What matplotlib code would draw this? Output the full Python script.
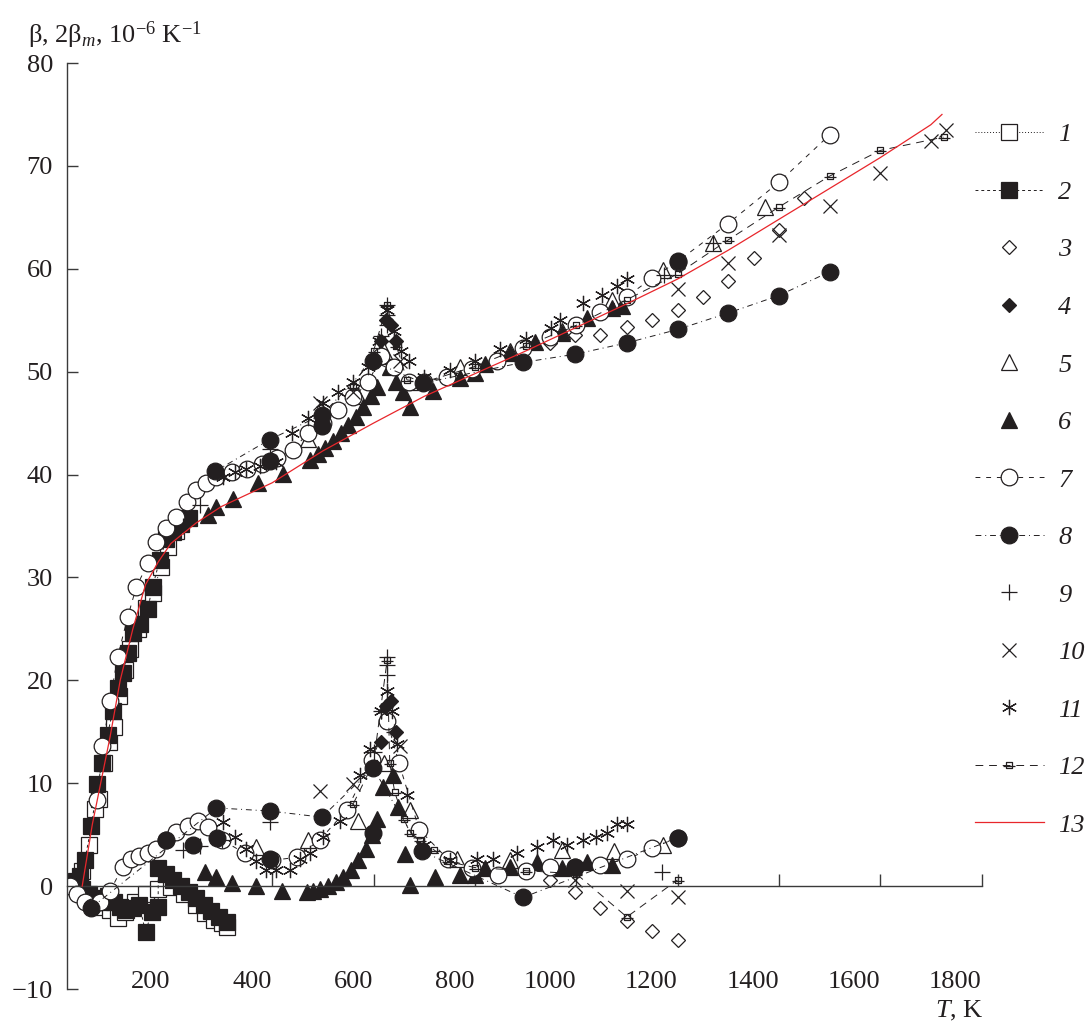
import matplotlib
matplotlib.use("Agg")
import matplotlib.pyplot as plt
from matplotlib.path import Path
from matplotlib.lines import Line2D

plt.rcParams['font.family'] = ['Liberation Serif', 'DejaVu Serif']
plt.rcParams['mathtext.fontset'] = 'custom'
plt.rcParams['mathtext.rm'] = 'Liberation Serif'
plt.rcParams['mathtext.it'] = 'Liberation Serif:italic'

INK = '#231f20'
RED = '#e8262b'

# ---- data: T (K) and beta / 2beta_m (1e-6 1/K), upper and lower branches ----
t1_up = [25, 38, 50, 58, 68, 78, 88, 98, 110, 120, 135, 150, 165, 180, 195, 210]
b1_up = [1.5, 4.0, 7.5, 8.5, 12.0, 14.0, 15.5, 18.5, 21.0, 23.0, 25.0, 27.0, 28.5, 31.0, 33.0, 34.5]
t1_lo = [0, 20, 40, 60, 80, 95, 110, 130, 150, 175, 200, 225, 250, 267, 285, 300, 310]
b1_lo = [0.0, -0.5, -1.2, -2.0, -2.3, -3.1, -2.5, -1.5, -0.8, -0.3, -0.1, -0.8, -1.8, -2.6, -3.3, -3.6, -4.0]

t2_up = [20, 30, 43, 55, 65, 75, 85, 95, 105, 115, 125, 140, 154, 164, 178, 191, 204, 220, 235]
b2_up = [1.0, 2.5, 5.8, 9.9, 12.0, 14.7, 17.0, 19.3, 20.7, 22.7, 24.6, 25.5, 26.9, 29.1, 31.7, 33.7, 34.4, 35.2, 35.8]
t2_lo = [0, 12, 25, 38, 50, 62, 75, 88, 100, 112, 125, 138, 150, 162, 175,
         175, 190, 205, 220, 235, 250, 265, 280, 295, 310]
b2_lo = [0.0, 0.5, -0.3, -0.8, -1.2, -1.5, -1.0, -1.5, -2.0, -2.3, -2.1, -1.8, -4.5, -2.5, -2.0,
         1.8, 1.2, 0.6, 0.0, -0.6, -1.2, -1.8, -2.4, -3.0, -3.5]

t3_up = [949, 998, 1047, 1100, 1150, 1200, 1250, 1300, 1350, 1400, 1450]
b3_up = [52.8, 53.6, 53.6, 54.3, 55.0, 56.0, 57.3, 58.8, 61.0, 63.8, 66.9]
t3_lo = [949, 998, 1047, 1100, 1150, 1200]
b3_lo = [0.6, -0.6, -2.1, -3.4, -4.4, -5.2]

t4_up = [615, 625, 635, 645]
b4_up = [53.0, 55.0, 54.5, 53.0]
t4_lo = [615, 625, 635, 645]
b4_lo = [14.0, 17.5, 18.0, 15.0]

t5_up = [470, 569, 620, 672, 771, 870, 972, 1071, 1172, 1271, 1373]
b5_up = [43.5, 47.6, 52.0, 49.0, 50.5, 52.0, 54.0, 57.0, 59.9, 62.5, 66.0]
t5_lo = [369, 471, 569, 620, 672, 765, 870, 972, 1074, 1172]
b5_lo = [3.8, 4.5, 6.3, 12.0, 7.4, 2.6, 2.5, 3.5, 3.4, 4.0]

t6_up = [273, 290, 322, 372, 421, 474, 490, 505, 520, 535, 550, 565, 580, 595, 607, 619, 632,
         645, 658, 672, 717, 771, 800, 820, 870, 919, 972, 1022, 1071, 1090]
b6_up = [36.1, 36.8, 37.6, 39.2, 40.1, 41.4, 42.0, 42.6, 43.3, 44.0, 44.8, 45.6, 46.6, 47.6, 48.5, 51.5, 50.5,
         49.0, 48.0, 46.6, 48.1, 49.4, 49.9, 50.7, 51.8, 52.9, 53.8, 55.2, 56.2, 56.4]
t6_lo = [267, 290, 320, 369, 419, 468, 481, 494, 510, 525, 540, 555, 570, 585, 597, 606, 618,
         638, 649, 662, 672, 721, 771, 800, 820, 870, 922, 972, 1022, 1071]
b6_lo = [1.4, 0.9, 0.3, 0.0, -0.5, -0.6, -0.5, -0.3, 0.0, 0.4, 0.9, 1.6, 2.5, 3.6, 5.0, 6.5, 9.6,
         10.8, 7.7, 3.1, 0.1, 0.9, 1.1, 1.1, 1.8, 1.9, 2.3, 1.8, 2.3, 2.1]

t7_up = [55, 65, 80, 95, 115, 132, 155, 171, 190, 211, 231, 250, 270, 290, 320, 350, 380, 410, 441,
         470, 500, 530, 560, 590, 615, 640, 670, 700, 745, 795, 844, 895, 949, 1000, 1047, 1100,
         1150, 1200, 1300, 1400, 1500]
b7_up = [8.4, 13.6, 18.0, 22.3, 26.2, 29.1, 31.4, 33.4, 34.8, 35.9, 37.3, 38.5, 39.2, 39.8, 40.2, 40.5,
         41.0, 41.6, 42.4, 44.0, 45.0, 46.3, 47.5, 49.0, 51.5, 50.5, 49.0, 49.0, 49.5, 50.3, 51.0, 52.3,
         53.4, 54.5, 55.8, 57.3, 59.1, 60.7, 64.4, 68.4, 73.0]
t7_lo = [0, 15, 30, 45, 60, 80, 105, 122, 138, 155, 171, 191, 211, 233, 253, 273, 300, 346, 400, 448,
         494, 547, 597, 627, 650, 690, 747, 795, 846, 900, 949, 998, 1047, 1100, 1150, 1200]
b7_lo = [0.0, -0.8, -1.5, -2.0, -1.5, -0.5, 1.9, 2.6, 2.9, 3.2, 3.6, 4.5, 5.3, 5.8, 6.3, 5.7, 4.5, 3.2,
         2.5, 2.8, 4.5, 7.4, 12.3, 16.0, 12.0, 5.5, 2.6, 1.8, 1.1, 1.5, 1.9, 1.9, 2.1, 2.6, 3.7, 4.7]

t8_up = [287, 395, 498, 598, 698, 895, 998, 1100, 1200, 1300, 1400, 1500]
b8_up = [40.3, 43.4, 45.8, 51.0, 48.9, 50.9, 51.7, 52.8, 54.1, 55.7, 57.4, 59.7]
t8_lo = [43, 290, 395, 498, 599, 695, 895, 1200]
b8_lo = [-2.1, 7.6, 7.3, 6.7, 11.5, 3.4, -1.1, 4.7]
t8b_up = [395, 498, 1200]
b8b_up = [41.3, 44.7, 60.8]
t8b_lo = [191, 244, 292, 395, 599, 998]
b8b_lo = [4.5, 4.0, 4.7, 2.6, 5.2, 1.9]

t9_up = [223, 257, 395, 600, 615, 627, 627, 627, 640, 1174, 1270]
b9_up = [35.0, 37.0, 42.5, 51.0, 53.5, 54.5, 55.5, 56.5, 53.0, 59.4, 62.5]
t9_lo = [223, 257, 300, 395, 600, 615, 627, 627, 627, 640, 1170]
b9_lo = [3.5, 3.9, 4.5, 6.2, 13.0, 17.0, 20.5, 21.5, 22.3, 15.0, 1.4]

t10_up = [494, 559, 652, 1200, 1300, 1400, 1500, 1600, 1700, 1729]
b10_up = [47.0, 48.0, 51.0, 58.0, 60.6, 63.3, 66.1, 69.3, 72.4, 73.5]
t10_lo = [494, 559, 652, 998, 1100, 1200]
b10_lo = [9.2, 9.9, 13.6, 0.6, -0.5, -1.1]

t11_up = [302, 326, 349, 375, 408, 440, 470, 500, 530, 560, 590, 610, 627, 640, 655, 670, 700, 750,
          800, 850, 900, 950, 968, 1014, 1050, 1080, 1100]
b11_up = [39.8, 40.2, 40.5, 40.8, 41.2, 44.0, 45.5, 47.0, 48.0, 49.0, 50.5, 53.0, 56.0, 54.0, 52.0,
          51.0, 49.5, 50.2, 51.0, 52.2, 53.2, 54.2, 55.0, 56.7, 57.5, 58.3, 59.0]
t11_lo = [302, 326, 349, 369, 388, 408, 435, 455, 474, 500, 534, 573, 593, 615, 627, 636, 646, 666,
          700, 750, 804, 836, 883, 922, 955, 982, 1014, 1040, 1061, 1081, 1100]
b11_lo = [6.2, 4.8, 3.6, 2.4, 1.6, 1.6, 1.6, 2.6, 3.2, 4.8, 6.3, 10.8, 13.3, 17.0, 19.0, 17.0, 13.8,
          8.9, 4.0, 2.5, 2.6, 2.6, 3.2, 3.8, 4.5, 4.0, 4.5, 4.8, 5.2, 6.0, 6.0]

t12_up = [560, 600, 627, 645, 666, 700, 800, 900, 1000, 1100, 1200, 1300, 1400, 1500, 1600, 1725]
b12_up = [48.5, 52.0, 56.5, 52.5, 49.2, 49.0, 50.5, 52.5, 54.5, 57.0, 59.5, 62.8, 66.0, 69.0, 71.5, 72.8]
t12_lo = [560, 600, 627, 632, 642, 660, 672, 692, 720, 747, 800, 900, 1000, 1100, 1200]
b12_lo = [8.0, 12.0, 22.0, 12.0, 9.1, 6.5, 5.2, 4.5, 3.5, 2.4, 1.8, 1.5, 1.2, -3.0, 0.6]

t13 = [25, 45, 80, 100, 125, 150, 175, 200, 250, 300, 400, 500, 600, 700, 800, 900, 1000,
       1100, 1200, 1300, 1400, 1500, 1600, 1700, 1722]
b13 = [0.0, 6.0, 14.5, 20.0, 25.0, 29.3, 31.5, 33.3, 35.3, 36.9, 39.2, 42.3, 45.0, 47.6, 49.8, 52.0,
       54.3, 56.6, 59.0, 61.8, 64.8, 67.8, 70.8, 74.0, 75.0]

x_ticks = [200, 400, 600, 800, 1000, 1200, 1400, 1600, 1800]
y_ticks = [-10, 0, 10, 20, 30, 40, 50, 60, 70, 80]
labels = ['1', '2', '3', '4', '5', '6', '7', '8', '9', '10', '11', '12', '13']

# small square with a bar through it (curve 12)
sq_bar = Path([(-0.5, -0.5), (0.5, -0.5), (0.5, 0.5), (-0.5, 0.5), (-0.5, -0.5),
               (-0.9, -0.1), (0.9, -0.1)],
              [Path.MOVETO, Path.LINETO, Path.LINETO, Path.LINETO, Path.CLOSEPOLY,
               Path.MOVETO, Path.LINETO])
asterisk = (6, 2, 0)

styles = [
    dict(marker='s', ms=11, mfc='white', ls=(0, (1, 2))),
    dict(marker='s', ms=11, mfc=INK, ls=(0, (3, 3))),
    dict(marker='D', ms=7.5, mfc='white', ls='none'),
    dict(marker='D', ms=7.5, mfc=INK, ls='none'),
    dict(marker='^', ms=11, mfc='white', ls='none'),
    dict(marker='^', ms=11, mfc=INK, ls='none'),
    dict(marker='o', ms=12, mfc='white', ls=(0, (5, 6))),
    dict(marker='o', ms=12, mfc=INK, ls=(0, (6, 4, 1, 4))),
    dict(marker='+', ms=11, mfc=INK, ls='none'),
    dict(marker='x', ms=10, mfc=INK, ls='none'),
    dict(marker=asterisk, ms=11, mfc=INK, ls='none'),
    dict(marker=sq_bar, ms=8, mfc='none', ls=(0, (8, 6))),
]

series = [
    [(t1_up, b1_up), (t1_lo, b1_lo)],
    [(t2_up, b2_up), (t2_lo, b2_lo)],
    [(t3_up, b3_up), (t3_lo, b3_lo)],
    [(t4_up, b4_up), (t4_lo, b4_lo)],
    [(t5_up, b5_up), (t5_lo, b5_lo)],
    [(t6_up, b6_up), (t6_lo, b6_lo)],
    [(t7_up, b7_up), (t7_lo, b7_lo)],
    [(t8_up, b8_up), (t8_lo, b8_lo)],
    [(t9_up, b9_up), (t9_lo, b9_lo)],
    [(t10_up, b10_up), (t10_lo, b10_lo)],
    [(t11_up, b11_up), (t11_lo, b11_lo)],
    [(t12_up, b12_up), (t12_lo, b12_lo)],
]

fig = plt.figure(figsize=(10.85, 10.23), dpi=100)
ax = fig.add_axes([67 / 1085, 1 - 989 / 1023, (981.5 - 67) / 1085, (989 - 63) / 1023])

handles = []
for st, branches in zip(styles, series):
    kw = dict(color=INK, lw=0.7, marker=st['marker'], ms=st['ms'], mfc=st['mfc'],
              mec=INK, mew=0.9, ls=st['ls'])
    for t, b in branches:
        ax.plot(t, b, **kw)
    handles.append(Line2D([], [], **kw))

# extra filled-circle points without connecting line
ax.plot(t8b_up, b8b_up, ls='none', marker='o', ms=12, color=INK)
ax.plot(t8b_lo, b8b_lo, ls='none', marker='o', ms=12, color=INK)

ax.plot(t13, b13, color=RED, lw=0.9, zorder=5)
handles.append(Line2D([], [], color=RED, lw=0.9))

ax.set_xlim(-5, 1800)
ax.set_ylim(-10, 80)
ax.spines['top'].set_visible(False)
ax.spines['right'].set_visible(False)
ax.spines['bottom'].set_position(('data', 0))
for s in ('left', 'bottom'):
    ax.spines[s].set_color('#3a3a3a')
    ax.spines[s].set_linewidth(1.0)

ax.set_xticks(x_ticks)
ax.set_xticklabels([str(v) for v in x_ticks], ha='right')
ax.set_yticks(y_ticks)
ax.set_yticklabels(['\u2212' + str(-v) if v < 0 else str(v) for v in y_ticks])
ax.tick_params(axis='x', direction='in', length=9, width=1, color='#3a3a3a', pad=61,
               labelsize=19, labelcolor=INK)
ax.tick_params(axis='y', direction='in', length=8, width=1, color='#3a3a3a', pad=10,
               labelsize=19, labelcolor=INK)

fig.text(28 / 1085, 1 - 35 / 1023, r'β, 2β$_{\mathit{m}}$, 10$^{-6}$ K$^{-1}$',
         fontsize=19, color=INK, ha='left', va='center')
fig.text(984 / 1085, 1 - 1011 / 1023, r'$\mathit{T}$, K', fontsize=19, color=INK,
         ha='right', va='center')

fig.legend(handles, labels, loc='upper left', bbox_to_anchor=(975 / 1085, 1 - 123 / 1023),
           frameon=False, prop={'family': 'Liberation Serif', 'style': 'italic', 'size': 19},
           handlelength=2.6, handletextpad=0.55, labelspacing=1.29, borderpad=0,
           borderaxespad=0, labelcolor=INK)

fig.savefig('out.png', dpi=100)
